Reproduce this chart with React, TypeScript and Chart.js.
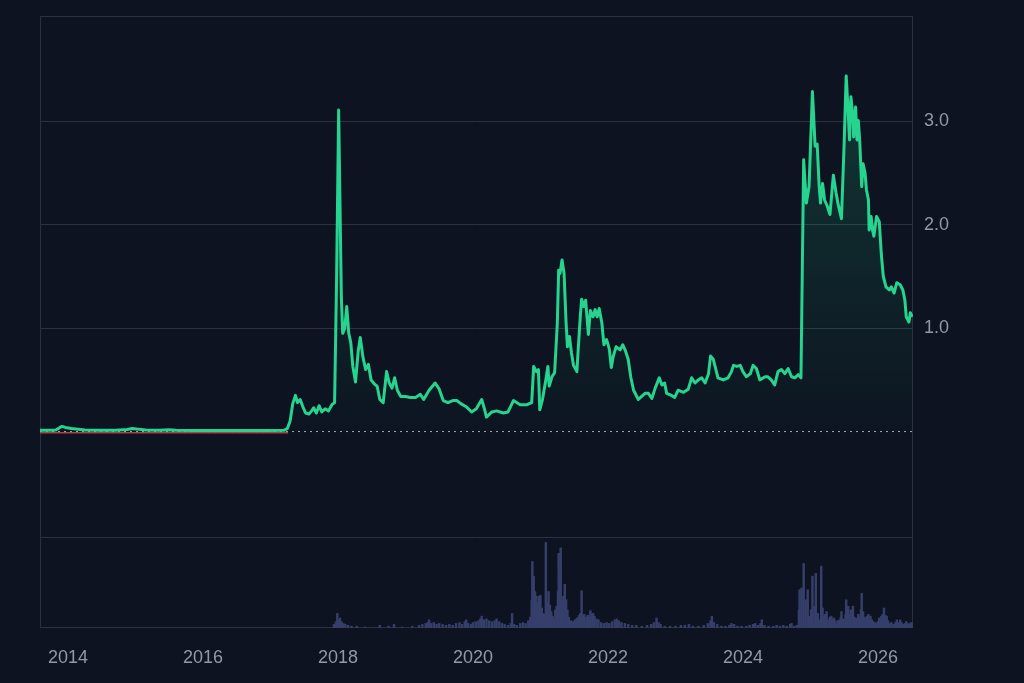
import { useEffect, useRef } from 'react';
import { Chart, registerables } from 'chart.js';

Chart.register(...registerables);

// ---- data ----
const yearTicks = [2014, 2016, 2018, 2020, 2022, 2024, 2026];
const priceTicks = [1, 2, 3];
const xRange = [2013.585, 2026.52];
const priceRange = [-1.02, 4.02];
const volumeRange = [0, 100];

const pricePoints: [number, number][] = [
  [2013.585, 0.012], [2013.7, 0.013], [2013.82, 0.016], [2013.88, 0.04], [2013.91, 0.05],
  [2013.96, 0.04], [2014.05, 0.03], [2014.15, 0.022], [2014.25, 0.015], [2014.45, 0.012],
  [2014.7, 0.012], [2014.88, 0.02], [2014.95, 0.03], [2015.02, 0.024], [2015.15, 0.016],
  [2015.35, 0.013], [2015.5, 0.018], [2015.6, 0.013], [2015.85, 0.011], [2016.2, 0.01],
  [2016.6, 0.01], [2016.95, 0.011], [2017.2, 0.012], [2017.25, 0.03], [2017.29, 0.1],
  [2017.33, 0.27], [2017.37, 0.35], [2017.4, 0.28], [2017.44, 0.31], [2017.48, 0.24],
  [2017.52, 0.18], [2017.57, 0.17], [2017.61, 0.2], [2017.64, 0.23], [2017.68, 0.18],
  [2017.72, 0.25], [2017.76, 0.19], [2017.81, 0.22], [2017.86, 0.2], [2017.91, 0.26],
  [2017.95, 0.28], [2017.98, 1.5], [2018.01, 3.11], [2018.03, 2.2], [2018.05, 1.3],
  [2018.07, 0.95], [2018.1, 1.0], [2018.13, 1.21], [2018.16, 0.95], [2018.19, 0.86],
  [2018.22, 0.63], [2018.26, 0.48], [2018.3, 0.78], [2018.33, 0.91], [2018.37, 0.72],
  [2018.41, 0.6], [2018.45, 0.65], [2018.49, 0.5], [2018.54, 0.46], [2018.58, 0.44],
  [2018.62, 0.31], [2018.67, 0.28], [2018.72, 0.58], [2018.76, 0.47], [2018.8, 0.42],
  [2018.84, 0.52], [2018.88, 0.4], [2018.93, 0.34], [2019.0, 0.34], [2019.07, 0.33],
  [2019.15, 0.33], [2019.22, 0.36], [2019.27, 0.31], [2019.35, 0.4], [2019.44, 0.47],
  [2019.5, 0.41], [2019.56, 0.3], [2019.63, 0.28], [2019.7, 0.3], [2019.76, 0.3],
  [2019.82, 0.27], [2019.9, 0.24], [2019.98, 0.19], [2020.05, 0.22], [2020.13, 0.31],
  [2020.17, 0.22], [2020.2, 0.14], [2020.28, 0.19], [2020.35, 0.2], [2020.45, 0.18],
  [2020.52, 0.19], [2020.6, 0.3], [2020.7, 0.26], [2020.8, 0.26], [2020.87, 0.28],
  [2020.9, 0.63], [2020.94, 0.58], [2020.97, 0.6], [2020.99, 0.21], [2021.03, 0.31],
  [2021.08, 0.5], [2021.11, 0.63], [2021.13, 0.44], [2021.17, 0.53], [2021.21, 0.57],
  [2021.25, 1.05], [2021.27, 1.56], [2021.29, 1.53], [2021.32, 1.66], [2021.35, 1.53],
  [2021.38, 1.05], [2021.4, 0.82], [2021.43, 0.92], [2021.46, 0.76], [2021.49, 0.64],
  [2021.54, 0.58], [2021.56, 0.8], [2021.59, 1.11], [2021.61, 1.28], [2021.64, 1.21],
  [2021.67, 1.27], [2021.71, 0.94], [2021.74, 1.17], [2021.78, 1.11], [2021.81, 1.18],
  [2021.84, 1.11], [2021.87, 1.19], [2021.91, 1.05], [2021.94, 0.84], [2021.98, 0.89],
  [2022.02, 0.8], [2022.05, 0.62], [2022.08, 0.73], [2022.12, 0.82], [2022.18, 0.79],
  [2022.22, 0.84], [2022.26, 0.78], [2022.3, 0.7], [2022.34, 0.52], [2022.38, 0.4],
  [2022.45, 0.31], [2022.5, 0.34], [2022.55, 0.37], [2022.6, 0.37], [2022.65, 0.32],
  [2022.7, 0.42], [2022.76, 0.52], [2022.8, 0.45], [2022.84, 0.47], [2022.87, 0.37],
  [2022.94, 0.35], [2022.99, 0.33], [2023.04, 0.4], [2023.12, 0.38], [2023.19, 0.41],
  [2023.24, 0.52], [2023.29, 0.47], [2023.34, 0.5], [2023.39, 0.52], [2023.44, 0.47],
  [2023.49, 0.56], [2023.52, 0.73], [2023.56, 0.7], [2023.6, 0.6], [2023.63, 0.52],
  [2023.71, 0.5], [2023.78, 0.52], [2023.83, 0.58], [2023.86, 0.64], [2023.91, 0.63],
  [2023.96, 0.64], [2024.0, 0.58], [2024.05, 0.53], [2024.11, 0.56], [2024.15, 0.64],
  [2024.2, 0.61], [2024.25, 0.5], [2024.33, 0.53], [2024.37, 0.53], [2024.42, 0.5],
  [2024.47, 0.45], [2024.52, 0.58], [2024.57, 0.6], [2024.62, 0.56], [2024.67, 0.61],
  [2024.72, 0.53], [2024.77, 0.52], [2024.82, 0.55], [2024.86, 0.52], [2024.9, 2.63],
  [2024.94, 2.21], [2024.98, 2.37], [2025.03, 3.29], [2025.07, 2.76], [2025.1, 2.78],
  [2025.13, 2.37], [2025.15, 2.21], [2025.18, 2.4], [2025.21, 2.24], [2025.25, 2.18],
  [2025.29, 2.1], [2025.34, 2.48], [2025.38, 2.31], [2025.41, 2.2], [2025.46, 2.06],
  [2025.5, 2.79], [2025.53, 3.44], [2025.55, 3.21], [2025.58, 2.82], [2025.6, 3.24],
  [2025.63, 3.05], [2025.64, 2.85], [2025.67, 3.14], [2025.69, 2.82], [2025.71, 3.01],
  [2025.73, 2.82], [2025.76, 2.37], [2025.78, 2.59], [2025.81, 2.5], [2025.83, 2.34],
  [2025.86, 2.24], [2025.87, 1.95], [2025.9, 2.08], [2025.92, 1.95], [2025.94, 1.89],
  [2025.98, 2.08], [2026.02, 2.03], [2026.05, 1.72], [2026.08, 1.5], [2026.12, 1.4],
  [2026.17, 1.37], [2026.2, 1.4], [2026.24, 1.34], [2026.28, 1.44], [2026.33, 1.42],
  [2026.37, 1.37], [2026.4, 1.27], [2026.42, 1.11], [2026.46, 1.06], [2026.48, 1.15],
  [2026.51, 1.11],
];

const redPoints: [number, number][] = [
  [2013.585, -0.012], [2015.0, -0.012], [2016.5, -0.012], [2017.26, -0.012],
];

const zeroPoints: [number, number][] = [
  [2013.585, 0], [2026.52, 0],
];

const volumePoints: [number, number][] = [
  [2017.94, 4], [2017.97, 7], [2017.99, 16], [2018.01, 9], [2018.03, 11], [2018.05, 7],
  [2018.08, 5], [2018.11, 4], [2018.15, 3], [2018.2, 2], [2018.28, 2], [2018.4, 1],
  [2018.62, 3], [2018.75, 2], [2018.83, 4], [2018.95, 1], [2019.1, 2], [2019.2, 3],
  [2019.25, 4], [2019.3, 5], [2019.33, 6], [2019.35, 9], [2019.38, 5], [2019.42, 6],
  [2019.46, 4], [2019.5, 5], [2019.55, 4], [2019.6, 3], [2019.65, 4], [2019.7, 3],
  [2019.75, 5], [2019.8, 6], [2019.84, 4], [2019.88, 7], [2019.9, 9], [2019.93, 5],
  [2019.97, 4], [2020.0, 6], [2020.04, 7], [2020.08, 8], [2020.11, 10], [2020.13, 13],
  [2020.16, 9], [2020.2, 10], [2020.24, 8], [2020.28, 7], [2020.32, 8], [2020.35, 10],
  [2020.39, 7], [2020.43, 5], [2020.47, 4], [2020.52, 3], [2020.56, 5], [2020.58, 16],
  [2020.61, 4], [2020.65, 3], [2020.7, 5], [2020.74, 6], [2020.78, 5], [2020.82, 8],
  [2020.85, 12], [2020.87, 30], [2020.88, 73], [2020.9, 57], [2020.92, 40], [2020.94, 35],
  [2020.96, 28], [2020.98, 35], [2021.0, 36], [2021.02, 22], [2021.04, 16], [2021.06, 15],
  [2021.08, 94], [2021.1, 28], [2021.12, 40], [2021.14, 25], [2021.16, 18], [2021.18, 13],
  [2021.2, 10], [2021.22, 20], [2021.24, 24], [2021.26, 40], [2021.27, 82], [2021.29, 60],
  [2021.3, 88], [2021.32, 31], [2021.34, 35], [2021.36, 48], [2021.38, 31], [2021.4, 20],
  [2021.42, 12], [2021.45, 8], [2021.48, 7], [2021.51, 9], [2021.54, 11], [2021.57, 14],
  [2021.59, 16], [2021.61, 41], [2021.63, 14], [2021.65, 15], [2021.68, 12], [2021.7, 14],
  [2021.72, 12], [2021.74, 19], [2021.76, 15], [2021.78, 16], [2021.8, 13], [2021.83, 10],
  [2021.86, 9], [2021.9, 6], [2021.94, 5], [2021.98, 6], [2022.02, 5], [2022.06, 7],
  [2022.1, 9], [2022.13, 10], [2022.16, 8], [2022.2, 6], [2022.25, 5], [2022.3, 4],
  [2022.36, 3], [2022.42, 3], [2022.5, 2], [2022.58, 3], [2022.64, 4], [2022.68, 6],
  [2022.72, 11], [2022.75, 6], [2022.78, 4], [2022.84, 2], [2022.92, 2], [2023.0, 2],
  [2023.08, 3], [2023.14, 3], [2023.2, 4], [2023.26, 2], [2023.34, 2], [2023.42, 3],
  [2023.48, 5], [2023.52, 8], [2023.54, 13], [2023.57, 6], [2023.62, 4], [2023.68, 2],
  [2023.74, 2], [2023.8, 3], [2023.83, 5], [2023.87, 4], [2023.92, 2], [2023.98, 2],
  [2024.05, 2], [2024.1, 3], [2024.15, 4], [2024.18, 5], [2024.22, 3], [2024.26, 5],
  [2024.28, 9], [2024.32, 3], [2024.38, 2], [2024.45, 2], [2024.5, 3], [2024.55, 2],
  [2024.6, 3], [2024.65, 2], [2024.7, 4], [2024.72, 5], [2024.76, 2], [2024.8, 3],
  [2024.83, 20], [2024.84, 42], [2024.87, 44], [2024.9, 71], [2024.93, 31], [2024.96, 42],
  [2024.98, 13], [2025.01, 20], [2025.03, 57], [2025.06, 24], [2025.08, 60], [2025.11, 16],
  [2025.13, 9], [2025.16, 68], [2025.18, 22], [2025.2, 13], [2025.22, 15], [2025.24, 18],
  [2025.27, 9], [2025.29, 12], [2025.31, 13], [2025.33, 10], [2025.35, 11], [2025.37, 8],
  [2025.39, 5], [2025.41, 8], [2025.43, 9], [2025.45, 12], [2025.46, 18], [2025.48, 10],
  [2025.5, 9], [2025.52, 15], [2025.53, 31], [2025.55, 22], [2025.56, 24], [2025.58, 15],
  [2025.6, 20], [2025.62, 14], [2025.63, 24], [2025.65, 12], [2025.67, 11], [2025.69, 10],
  [2025.71, 15], [2025.73, 12], [2025.75, 20], [2025.76, 38], [2025.78, 18], [2025.8, 12],
  [2025.82, 11], [2025.84, 13], [2025.86, 15], [2025.88, 10], [2025.89, 13], [2025.91, 9],
  [2025.93, 7], [2025.96, 6], [2025.98, 5], [2026.0, 7], [2026.02, 11], [2026.04, 10],
  [2026.05, 13], [2026.07, 15], [2026.09, 22], [2026.11, 14], [2026.13, 13], [2026.15, 8],
  [2026.17, 5], [2026.2, 6], [2026.23, 4], [2026.26, 6], [2026.28, 9], [2026.3, 6],
  [2026.33, 9], [2026.35, 6], [2026.37, 4], [2026.4, 5], [2026.42, 7], [2026.45, 5],
  [2026.47, 4], [2026.49, 6], [2026.51, 5],
];

// ---- styles ----
const BG = '#0d1320';
const FRAME = '#2a3140';
const TEXT = '#9398a8';
const GREEN = '#27d48f';
const FONT = { family: "'Liberation Sans', Arial, sans-serif", size: 18 };

const toXY = (pts: [number, number][]) => pts.map(([x, y]) => ({ x, y }));

const framePlugin = {
  id: 'frame',
  beforeDatasetsDraw(chart: any) {
    const { ctx, chartArea: a, scales } = chart;
    ctx.save();
    ctx.strokeStyle = FRAME;
    ctx.lineWidth = 1;
    ctx.strokeRect(Math.round(a.left) + 0.5, Math.round(a.top) + 0.5, Math.round(a.width) - 1, Math.round(a.height) - 1);
    const sy = Math.round(scales.y2.top) + 0.5;
    ctx.beginPath();
    ctx.moveTo(a.left, sy);
    ctx.lineTo(a.right, sy);
    ctx.stroke();
    ctx.restore();
  },
};

export default function App() {
  const ref = useRef<HTMLCanvasElement | null>(null);

  useEffect(() => {
    document.body.style.margin = '0';
    document.body.style.background = BG;
    if (!ref.current) return;
    const chart = new Chart(ref.current, {
      type: 'line',
      data: {
        datasets: [
          {
            type: 'line',
            data: toXY(pricePoints),
            yAxisID: 'y',
            borderColor: GREEN,
            borderWidth: 3,
            borderJoinStyle: 'round',
            pointRadius: 0,
            tension: 0,
            fill: 'origin',
            backgroundColor: (c: any) => {
              const { chart: ch } = c;
              const area = ch.chartArea;
              if (!area) return 'rgba(39,212,143,0.1)';
              const zero = ch.scales.y.getPixelForValue(0);
              const g = ch.ctx.createLinearGradient(0, area.top, 0, zero);
              g.addColorStop(0, 'rgba(39,212,143,0.22)');
              g.addColorStop(1, 'rgba(39,212,143,0.01)');
              return g;
            },
            order: 0,
          } as any,
          {
            type: 'line',
            data: toXY(zeroPoints),
            yAxisID: 'y',
            borderColor: 'rgba(215,218,228,0.75)',
            borderWidth: 1,
            borderDash: [2, 4],
            pointRadius: 0,
            fill: false,
            order: 1,
          },
          {
            type: 'line',
            data: toXY(redPoints),
            yAxisID: 'y',
            borderColor: 'rgba(190,72,72,0.9)',
            borderWidth: 1.5,
            pointRadius: 0,
            fill: false,
            order: 2,
          },
          {
            type: 'bar',
            data: toXY(volumePoints),
            yAxisID: 'y2',
            backgroundColor: '#363f6a',
            borderWidth: 0,
            barThickness: 1.8,
            order: 3,
          } as any,
        ],
      },
      options: {
        animation: false,
        responsive: false,
        maintainAspectRatio: false,
        layout: { padding: { left: 40, top: 16, right: 0, bottom: 0 } },
        plugins: { legend: { display: false }, tooltip: { enabled: false } },
        scales: {
          x: {
            type: 'linear',
            min: xRange[0],
            max: xRange[1],
            offset: false,
            grid: { display: false, offset: false },
            border: { display: false },
            ticks: {
              color: TEXT,
              font: FONT,
              padding: 11,
              maxRotation: 0,
              autoSkip: false,
              callback: (v: any) => String(v),
            },
            afterBuildTicks: (s: any) => {
              s.ticks = yearTicks.map((v) => ({ value: v }));
            },
            afterFit: (s: any) => {
              s.height = 55;
              s.paddingLeft = 0;
              s.paddingRight = 0;
            },
          },
          y: {
            type: 'linear',
            position: 'right',
            stack: 'pane',
            stackWeight: 521,
            min: priceRange[0],
            max: priceRange[1],
            grid: { color: FRAME, drawTicks: false, lineWidth: 1 },
            border: { display: false },
            ticks: {
              color: TEXT,
              font: FONT,
              padding: 11,
              callback: (v: any) => Number(v).toFixed(1),
            },
            afterBuildTicks: (s: any) => {
              s.ticks = priceTicks.map((v) => ({ value: v }));
            },
            afterFit: (s: any) => {
              s.width = 111;
              s.paddingTop = 0;
              s.paddingBottom = 0;
            },
          },
          y2: {
            type: 'linear',
            position: 'right',
            stack: 'pane',
            stackWeight: 91,
            min: volumeRange[0],
            max: volumeRange[1],
            grid: { display: false },
            border: { display: false },
            ticks: { display: false },
            afterFit: (s: any) => {
              s.width = 111;
              s.paddingTop = 0;
              s.paddingBottom = 0;
            },
          },
        },
      },
      plugins: [framePlugin],
    } as any);
    return () => chart.destroy();
  }, []);

  return (
    <div style={{ width: 1024, height: 683, background: BG, overflow: 'hidden' }}>
      <canvas ref={ref} width={1024} height={683} style={{ width: 1024, height: 683, display: 'block' }} />
    </div>
  );
}
